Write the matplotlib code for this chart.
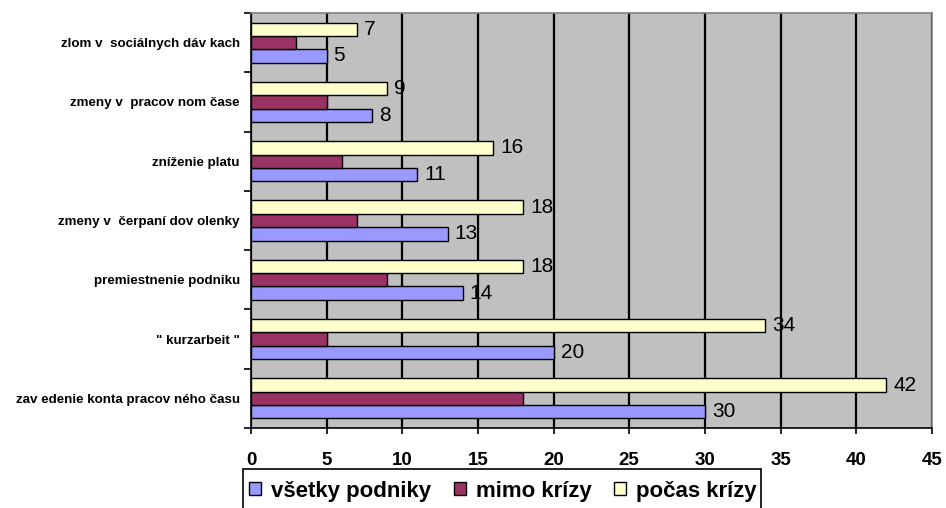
import matplotlib.pyplot as plt
import numpy as np
from matplotlib.patches import Rectangle

# Categories listed bottom to top, as drawn
categories = [
    'zav edenie konta pracov ného času',
    '" kurzarbeit "',
    'premiestnenie podniku',
    'zmeny v  čerpaní dov olenky',
    'zníženie platu',
    'zmeny v  pracov nom čase',
    'zlom v  sociálnych dáv kach',
]
vsetky = [30, 20, 14, 13, 11, 8, 5]
mimo = [18, 5, 9, 7, 6, 5, 3]
pocas = [42, 34, 18, 18, 16, 9, 7]
series_names = ['všetky podniky', 'mimo krízy', 'počas krízy']

plt.rcParams['font.family'] = ['Liberation Sans', 'DejaVu Sans']

fig = plt.figure(figsize=(9.46, 5.08), dpi=100)
ax = fig.add_axes([0.2653, 0.1575, 0.985 - 0.2653, 0.9744 - 0.1575])
ax.set_facecolor('#C0C0C0')

y = np.arange(len(categories))
h = 0.225
colors = ['#9999FF', '#993366', '#FFFFCC']

b1 = ax.barh(y - h, vsetky, height=h, color=colors[0], edgecolor='black', linewidth=1.0, label=series_names[0], zorder=3)
b2 = ax.barh(y, mimo, height=h, color=colors[1], edgecolor='black', linewidth=1.0, label=series_names[1], zorder=3)
b3 = ax.barh(y + h, pocas, height=h, color=colors[2], edgecolor='black', linewidth=1.0, label=series_names[2], zorder=3)

# value labels on the first and last series
for bars, vals in [(b1, vsetky), (b3, pocas)]:
    for bar, v in zip(bars, vals):
        ax.annotate(str(v), (v, bar.get_y() + bar.get_height() / 2),
                    xytext=(5, 0), textcoords='offset points',
                    va='center', ha='left', fontsize=15, zorder=4)

ax.set_xlim(0, 45)
ax.set_ylim(-0.5, len(categories) - 0.5)
ax.set_xticks(np.arange(0, 46, 5))
ax.xaxis.grid(True, color='black', linewidth=1.6, zorder=1)
ax.tick_params(axis='x', labelsize=13.5, width=1.2, length=4, pad=13, direction='out')
for lbl in ax.get_xticklabels():
    lbl.set_fontweight('bold')

ax.set_yticks(y)
ax.set_yticklabels(categories, fontsize=9.6, fontweight='bold')
ax.tick_params(axis='y', length=0, pad=8)
ax.set_yticks(np.arange(-0.5, len(categories), 1), minor=True)
ax.tick_params(axis='y', which='minor', length=5, width=1.2, direction='out')

for side in ['top', 'right']:
    ax.spines[side].set_color('#808080')
    ax.spines[side].set_linewidth(1.2)
for side in ['left', 'bottom']:
    ax.spines[side].set_color('black')
    ax.spines[side].set_linewidth(1.2)

# legend box runs off the bottom edge, as in the original
fig.patches.append(Rectangle((243 / 946, -0.02), (761 - 243) / 946, (1 - 469 / 508) + 0.02,
                             transform=fig.transFigure, fill=False,
                             edgecolor='black', linewidth=1.2))
leg = ax.legend(loc='center left', bbox_to_anchor=(249 / 946, 1 - 491 / 508),
                bbox_transform=fig.transFigure, ncol=3, frameon=False,
                handlelength=0.55, handleheight=0.55, handletextpad=0.45,
                columnspacing=1.0, borderpad=0.0, borderaxespad=0,
                prop={'weight': 'bold', 'size': 16})

fig.savefig('out.png', dpi=100)
